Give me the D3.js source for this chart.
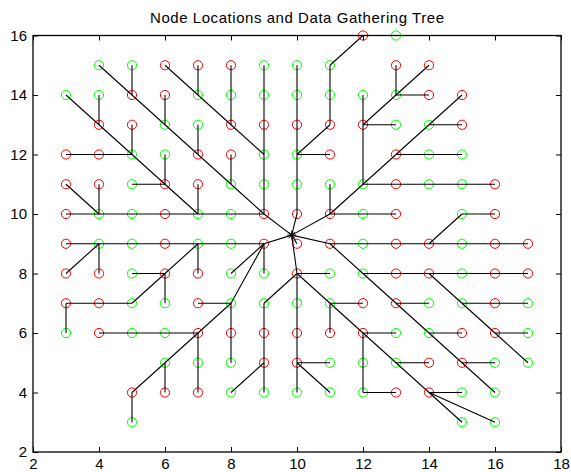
<!DOCTYPE html>
<html>
<head>
<meta charset="utf-8">
<script src="https://cdn.jsdelivr.net/npm/d3@7"></script>
<style>
  html, body { margin: 0; padding: 0; background: #fff; }
  svg { display: block; font-family: "Liberation Sans", Arial, Helvetica, sans-serif; }
</style>
</head>
<body>
<svg id="chart" width="571" height="472"></svg>
<script>
// ---------- data ----------
const titleText = "Node Locations and Data Gathering Tree";
const xTicks = [2, 4, 6, 8, 10, 12, 14, 16, 18];
const yTicks = [2, 4, 6, 8, 10, 12, 14, 16];
const xDomain = [2, 18];
const yDomain = [2, 16];

// sink location (star)
const sinkX = 9.84;
const sinkY = 9.29;

// node rows: y value, x values of red nodes, x values of green nodes
const rowY = [16, 15, 14, 13, 12, 11, 10, 9, 8, 7, 6, 5, 4, 3];
const redX = [
  [12],
  [6, 7, 8, 13, 14],
  [5, 6, 14, 15],
  [4, 5, 8, 9, 10, 11, 12, 15],
  [3, 4, 7, 8, 11, 13],
  [3, 4, 6, 7, 13, 16],
  [3, 6, 9, 10, 11, 13, 16],
  [3, 6, 9, 10, 11, 13, 14, 16, 17],
  [3, 4, 6, 7, 10, 13, 14, 16, 17],
  [3, 4, 7, 12, 13, 16],
  [4, 7, 8, 9, 10, 11, 12, 15, 16],
  [9, 10, 14, 15],
  [5, 6, 7, 13, 14],
  []
];
const greenX = [
  [13],
  [4, 5, 9, 10, 11],
  [3, 4, 7, 8, 9, 10, 11, 12, 13],
  [6, 7, 13, 14],
  [5, 6, 9, 10, 14, 15],
  [5, 8, 9, 10, 11, 12, 14, 15],
  [4, 5, 7, 8, 12, 15],
  [4, 5, 7, 8, 12, 15],
  [5, 8, 9, 11, 12, 15],
  [5, 6, 8, 9, 10, 11, 14, 15, 17],
  [3, 5, 6, 13, 14, 17],
  [6, 7, 8, 11, 12, 13, 16, 17],
  [8, 9, 10, 11, 12, 15, 16],
  [5, 15, 16]
];

// tree paths (child -> parent -> ...), 'S' = sink
const chains = [
  [[12,16],[11,15],[11,14],[11,13],[10,12]],
  [[11,12],[10,12]],
  [[10,15],[10,14],[10,13],[10,12],[10,11],[10,10],'S'],
  [[9,15],[9,14],[9,13],[9,12],[9,11],[9,10],'S'],
  [[8,15],[8,14],[8,13],[9,12]],
  [[7,15],[7,14]],
  [[6,15],[7,14],[8,13]],
  [[5,15],[5,14]],
  [[4,15],[5,14],[6,13],[7,12],[8,11],[9,10]],
  [[6,14],[6,13]],
  [[7,13],[7,12]],
  [[8,12],[8,11]],
  [[3,14],[4,13],[5,12],[6,11],[7,10]],
  [[4,14],[4,13]],
  [[5,13],[5,12]],
  [[3,12],[4,12],[5,12]],
  [[6,12],[6,11]],
  [[5,11],[6,11]],
  [[7,11],[7,10]],
  [[3,10],[4,10],[5,10],[6,10],[7,10],[8,10],[9,10]],
  [[3,11],[4,10]],
  [[4,11],[4,10]],
  [[3,9],[4,9],[5,9],[6,9],[7,9],[8,9],[9,9],'S'],
  [[3,8],[4,9]],
  [[4,8],[4,9]],
  [[5,8],[6,8],[7,9]],
  [[6,7],[6,8]],
  [[3,6],[3,7],[4,7],[5,7],[6,8]],
  [[7,8],[7,9]],
  [[8,8],[9,9]],
  [[9,8],[9,9]],
  [[7,7],[8,7],[9,9]],
  [[5,3],[5,4],[6,5],[7,6],[8,7]],
  [[6,4],[6,5]],
  [[4,6],[5,6],[6,6],[7,6]],
  [[7,4],[7,5],[7,6]],
  [[8,5],[8,6],[8,7]],
  [[8,4],[9,5]],
  [[9,4],[9,5],[9,6],[9,7],[10,8],'S'],
  [[10,9],'S'],
  [[11,8],[10,8]],
  [[10,4],[10,5],[10,6],[10,7],[10,8]],
  [[11,5],[10,5]],
  [[11,4],[10,5]],
  [[14,4],[13,5],[12,6],[11,7],[10,8]],
  [[11,6],[11,7]],
  [[12,7],[11,7]],
  [[13,6],[12,6]],
  [[13,4],[12,4],[12,5],[12,6]],
  [[14,5],[13,5]],
  [[15,4],[14,4]],
  [[15,3],[14,4]],
  [[16,3],[14,4]],
  [[16,4],[15,5],[14,6],[13,7],[12,8],[11,9],'S'],
  [[15,6],[14,6]],
  [[16,5],[15,5]],
  [[17,5],[16,6],[15,7],[14,8]],
  [[17,6],[16,6]],
  [[14,7],[13,7]],
  [[17,7],[16,7],[15,7]],
  [[17,8],[16,8],[15,8],[14,8],[13,8],[12,8]],
  [[17,9],[16,9],[15,9],[14,9],[13,9],[12,9],[11,9]],
  [[16,10],[15,10],[14,9]],
  [[13,10],[12,10],[11,10],'S'],
  [[11,11],[11,10]],
  [[12,11],[11,10]],
  [[16,11],[15,11],[14,11],[13,11],[12,11]],
  [[12,14],[12,13],[12,11]],
  [[13,14],[12,13]],
  [[13,13],[12,13]],
  [[13,15],[13,14]],
  [[14,15],[13,14]],
  [[14,14],[13,14]],
  [[15,14],[14,13],[13,12],[12,11]],
  [[15,13],[14,13]],
  [[15,12],[14,12],[13,12]]
];

// ---------- drawing ----------
(function () {
const svg = d3.select("#chart");
const mLeft = 33, mRight = 561, mTop = 35.5, mBottom = 452;

const x = d3.scaleLinear().domain(xDomain).range([mLeft, mRight]);
const y = d3.scaleLinear().domain(yDomain).range([mBottom, mTop]);

// nodes
const nodes = [];
rowY.forEach((yy, i) => {
  redX[i].forEach(xx => nodes.push({x: xx, y: yy, c: "#ff0000"}));
  greenX[i].forEach(xx => nodes.push({x: xx, y: yy, c: "#00ff00"}));
});

svg.append("g").selectAll("circle").data(nodes).join("circle")
  .attr("cx", d => x(d.x)).attr("cy", d => y(d.y)).attr("r", 4.6)
  .attr("fill", "none").attr("stroke", d => d.c).attr("stroke-width", 1);

// edges
const segs = [];
chains.forEach(ch => {
  const pts = ch.map(p => p === 'S' ? [sinkX, sinkY] : p);
  for (let i = 0; i < pts.length - 1; i++) segs.push([pts[i], pts[i + 1]]);
});
svg.append("g").selectAll("line").data(segs).join("line")
  .attr("x1", d => x(d[0][0])).attr("y1", d => y(d[0][1]))
  .attr("x2", d => x(d[1][0])).attr("y2", d => y(d[1][1]))
  .attr("stroke", "#000").attr("stroke-width", 1.1);

// sink star (asterisk marker)
const sx = x(sinkX), sy = y(sinkY), sr = 4.5;
const star = svg.append("g").attr("stroke", "#000").attr("stroke-width", 1);
[0, 45, 90, 135].forEach(a => {
  const rad = a * Math.PI / 180;
  star.append("line")
    .attr("x1", sx - sr * Math.cos(rad)).attr("y1", sy - sr * Math.sin(rad))
    .attr("x2", sx + sr * Math.cos(rad)).attr("y2", sy + sr * Math.sin(rad));
});

// axes (ticks inside, box)
const fontSize = 15;
const axB = svg.append("g").attr("transform", `translate(0,${mBottom})`)
  .call(d3.axisBottom(x).tickValues(xTicks).tickSizeInner(-5).tickSizeOuter(0).tickPadding(6.5).tickFormat(d3.format("d")));
const axT = svg.append("g").attr("transform", `translate(0,${mTop})`)
  .call(d3.axisTop(x).tickValues(xTicks).tickSizeInner(-5).tickSizeOuter(0).tickFormat(""));
const axL = svg.append("g").attr("transform", `translate(${mLeft},0)`)
  .call(d3.axisLeft(y).tickValues(yTicks).tickSizeInner(-5).tickSizeOuter(0).tickPadding(6).tickFormat(d3.format("d")));
const axR = svg.append("g").attr("transform", `translate(${mRight},0)`)
  .call(d3.axisRight(y).tickValues(yTicks).tickSizeInner(-5).tickSizeOuter(0).tickFormat(""));
[axB, axT, axL, axR].forEach(g => {
  g.select(".domain").remove();
  g.selectAll(".tick line").attr("stroke", "#000").attr("stroke-width", 1);
  g.selectAll("text").attr("font-size", fontSize).attr("fill", "#000")
    .attr("font-family", "'Liberation Sans', Arial, Helvetica, sans-serif");
});
svg.append("rect").attr("x", mLeft).attr("y", mTop)
  .attr("width", mRight - mLeft).attr("height", mBottom - mTop)
  .attr("fill", "none").attr("stroke", "#000").attr("stroke-width", 1.3);

// title
svg.append("text").attr("x", (mLeft + mRight) / 2).attr("y", 23)
  .attr("text-anchor", "middle").attr("font-size", 15).attr("fill", "#000")
  .attr("textLength", 294).attr("lengthAdjust", "spacing")
  .text(titleText);
})();
</script>
</body>
</html>
